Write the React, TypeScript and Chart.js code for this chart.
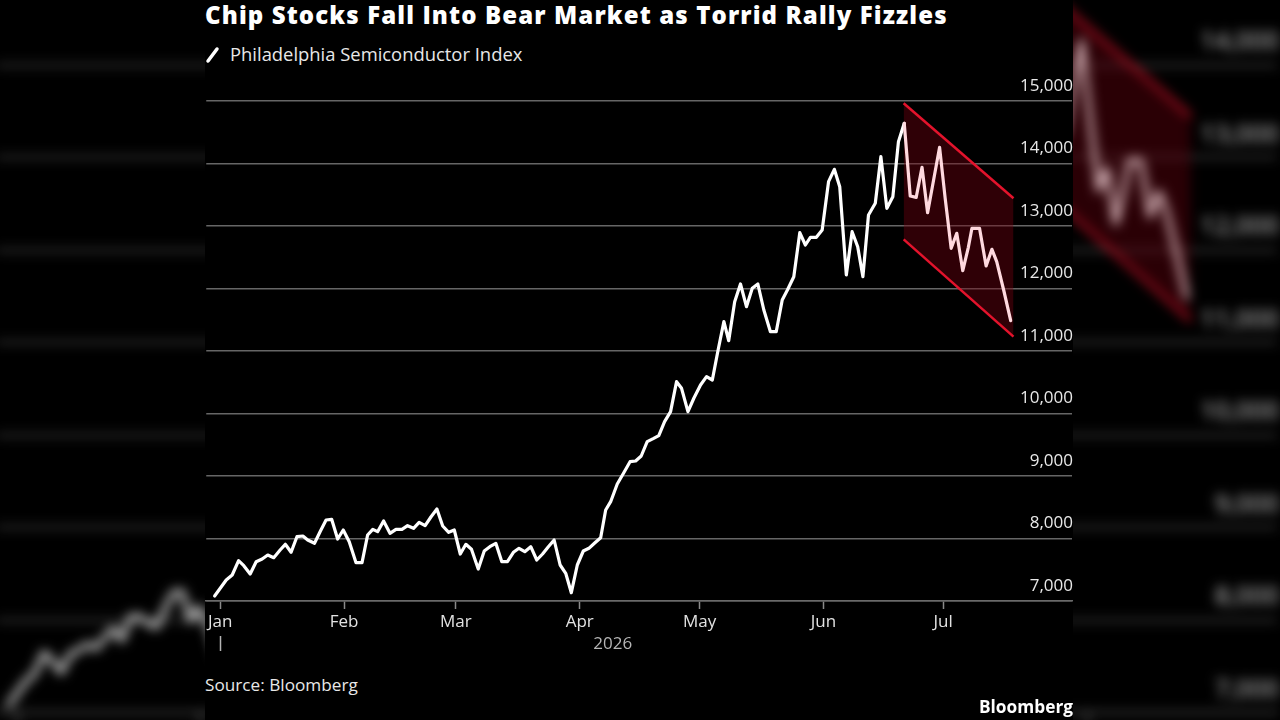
import React, { useEffect, useRef } from "react";
import { Chart, registerables } from "chart.js";

Chart.register(...registerables);

const TITLE = "Chip Stocks Fall Into Bear Market as Torrid Rally Fizzles";
const SERIES_NAME = "Philadelphia Semiconductor Index";
const SOURCE = "Source: Bloomberg";
const BRAND = "Bloomberg";
const YEAR_LABEL = "2026";

const MONTH_LABELS = ["Jan", "Feb", "Mar", "Apr", "May", "Jun", "Jul"];
// day-of-year (Jan 1 = 0) of each month start
const MONTH_START_DAYS = [0, 31, 59, 90, 120, 151, 181];
const Y_TICKS = [7000, 8000, 9000, 10000, 11000, 12000, 13000, 14000, 15000];

// day-of-year of each observation
const DAYS = [
  -1.4, 1.5, 3, 4.6, 5.9, 7.5, 9, 10.5, 11.9, 13.4, 15, 16.3, 17.75, 19.2, 20.7, 21.9, 23.6, 25, 26.5, 27.9,
  29.4, 30.8, 32.3, 34, 35.5, 36.9, 38.2, 39.4, 40.9, 42.5, 44, 45.5, 46.9, 48.4, 49.8, 51.3, 52.75, 54.25, 55.7, 57.2,
  58.6, 60.1, 61.5, 62.9, 64.6, 66.1, 67.5, 69, 70.5, 71.9, 73.4, 74.8, 76.25, 77.75, 79.25, 80.7, 82.1, 83.6, 85.1, 86.5,
  87.9, 89.4, 90.9, 92.3, 93.75, 95.25, 96.5, 97.75, 99.4, 101, 102.6, 104, 105.4, 106.9, 108.4, 109.8, 111.25, 112.75, 114.25, 115.5,
  117.1, 118.6, 120.25, 121.75, 123.2, 124.6, 126.1, 127.3, 128.8, 130.25, 131.75, 133.2, 134.6, 136.1, 137.75, 139.2, 140.7, 142, 143.6, 145.1,
  146.5, 147.75, 149.25, 150.7, 152.3, 153.75, 155.1, 156.75, 158.2, 159.6, 160.9, 162.3, 164, 165.4, 166.9, 168.4, 169.8, 171.25, 172.75, 174.25,
  175.7, 177.1, 178.6, 180.1, 181.5, 183, 184.4, 185.9, 187.3, 188.2, 190.1, 191.75, 193.2, 194.4, 196.2, 197.9,
];

// index level
const VALUES = [
  7080, 7336, 7416, 7645, 7565, 7432, 7629, 7672, 7736, 7693, 7816, 7907, 7779, 8029, 8040, 7976, 7923, 8109, 8296, 8307,
  7992, 8136, 7949, 7613, 7613, 8056, 8147, 8109, 8280, 8083, 8147, 8147, 8205, 8163, 8259, 8205, 8344, 8472, 8200, 8099,
  8136, 7752, 7907, 7827, 7512, 7800, 7869, 7923, 7629, 7629, 7779, 7843, 7789, 7869, 7656, 7752, 7864, 7976, 7576, 7443,
  7133, 7576, 7800, 7843, 7928, 8013, 8456, 8589, 8872, 9048, 9229, 9240, 9320, 9549, 9597, 9645, 9869, 10029, 10509, 10403,
  10029, 10248, 10456, 10589, 10536, 11000, 11469, 11165, 11789, 12072, 11709, 12003, 12072, 11656, 11309, 11309, 11816, 11976, 12189, 12893,
  12696, 12819, 12819, 12936, 13709, 13907, 13629, 12216, 12909, 12669, 12189, 13176, 13363, 14109, 13283, 13469, 14349, 14643, 13480, 13459,
  13939, 13213, 13736, 14259, 13443, 12643, 12883, 12285, 12659, 12963, 12963, 12360, 12627, 12429, 11960, 11485,
];

// bear-market channel
const CHANNEL_START = 171;
const CHANNEL_DAYS = [171.1, 198.6];
const CHANNEL_UPPER = [14963, 13443];
const CHANNEL_LOWER = [12787, 11229];

const FONT = '"Open Sans", "Noto Sans", sans-serif';
const WHITE = "#ffffff";
const PINK = "#ffd9df";
const RED = "#e3132c";

const yearPlugin = {
  id: "yearLabel",
  afterDraw(chart: any) {
    const { ctx, scales } = chart;
    const xs = scales.x;
    const baseY = chart.chartArea.bottom;
    ctx.save();
    // year marker under Jan
    const xJan = Math.round(xs.getPixelForValue(MONTH_START_DAYS[0])) + 0.5;
    ctx.strokeStyle = "#b5b5b5";
    ctx.lineWidth = 1.5;
    ctx.beginPath();
    ctx.moveTo(xJan, baseY + 35);
    ctx.lineTo(xJan, baseY + 50);
    ctx.stroke();
    // year label centred under the data span
    const mid = (DAYS[0] + DAYS[DAYS.length - 1]) / 2;
    ctx.fillStyle = "#b5b5b5";
    ctx.font = `17px ${FONT}`;
    ctx.textAlign = "center";
    ctx.textBaseline = "middle";
    ctx.fillText(YEAR_LABEL, xs.getPixelForValue(mid), baseY + 43);
    ctx.restore();
  },
};

function buildConfig(): any {
  return {
    type: "line",
    data: {
      datasets: [
        {
          label: SERIES_NAME,
          data: DAYS.map((d, i) => ({ x: d, y: VALUES[i] })),
          borderColor: WHITE,
          borderWidth: 3.2,
          pointRadius: 0,
          tension: 0,
          borderJoinStyle: "round",
          borderCapStyle: "round",
          fill: false,
          order: 0,
          segment: {
            borderColor: (c: any) => (c.p0.parsed.x >= CHANNEL_START ? PINK : WHITE),
          },
        },
        {
          label: "upper",
          data: CHANNEL_DAYS.map((d, i) => ({ x: d, y: CHANNEL_UPPER[i] })),
          borderColor: RED,
          borderWidth: 2.5,
          pointRadius: 0,
          fill: false,
          order: 1,
        },
        {
          label: "lower",
          data: CHANNEL_DAYS.map((d, i) => ({ x: d, y: CHANNEL_LOWER[i] })),
          borderColor: RED,
          borderWidth: 2.5,
          pointRadius: 0,
          fill: "-1",
          backgroundColor: "rgba(112,0,14,0.42)",
          order: 2,
        },
      ],
    },
    options: {
      animation: false,
      responsive: false,
      maintainAspectRatio: false,
      layout: { padding: { top: 31, right: 1, bottom: 29, left: 0 } },
      plugins: { legend: { display: false }, tooltip: { enabled: false } },
      scales: {
        x: {
          type: "linear",
          min: -3.5,
          max: 213.25,
          afterBuildTicks: (s: any) => {
            s.ticks = MONTH_START_DAYS.map((v) => ({ value: v }));
          },
          afterFit: (s: any) => {
            s.height = 40;
          },
          ticks: {
            callback: (_v: any, i: number) => MONTH_LABELS[i],
            color: "#e2e2e2",
            font: { family: FONT, size: 17 },
            padding: 3,
            maxRotation: 0,
            autoSkip: false,
          },
          grid: { drawOnChartArea: false, drawTicks: true, tickLength: 8, color: "#8a8a8a", tickWidth: 1.5 },
          border: { display: true, color: "#6a6a6a", width: 1.5 },
        },
        y: {
          position: "right",
          min: 7000,
          max: 15000,
          afterBuildTicks: (s: any) => {
            s.ticks = Y_TICKS.map((v) => ({ value: v }));
          },
          afterFit: (s: any) => {
            s.width = 0;
          },
          ticks: {
            mirror: true,
            padding: 1,
            labelOffset: -15,
            color: "#e8e8e8",
            font: { family: FONT, size: 17 },
            callback: (v: any) => Number(v).toLocaleString("en-US"),
          },
          grid: { color: "#666666", lineWidth: 1.5, drawTicks: false },
          border: { display: false },
        },
      },
    },
    plugins: [yearPlugin],
  };
}

function SoxCanvas() {
  const ref = useRef<HTMLCanvasElement>(null);
  useEffect(() => {
    const chart = new Chart(ref.current as HTMLCanvasElement, buildConfig());
    return () => chart.destroy();
  }, []);
  return (
    <canvas
      ref={ref}
      width={868}
      height={600}
      style={{ position: "absolute", left: 205, top: 70, width: 868, height: 600, display: "block" }}
    />
  );
}

export default function App() {
  return (
    <div
      style={{
        position: "fixed",
        left: 0,
        top: 0,
        width: 1280,
        height: 720,
        overflow: "hidden",
        background: "#000",
        fontFamily: FONT,
      }}
    >
      {/* blurred, zoomed backdrop */}
      <div
        style={{
          position: "absolute",
          left: 0,
          top: 0,
          width: 1280,
          height: 720,
          transform: "scale(1.48)",
          transformOrigin: "644px 369px",
          filter: "blur(4px) brightness(0.9)",
        }}
      >
        <SoxCanvas />
      </div>

      {/* main panel */}
      <div style={{ position: "absolute", left: 205, top: 0, width: 868, height: 720, background: "#000" }} />
      <SoxCanvas />

      <div
        style={{
          position: "absolute",
          left: 205,
          top: 0,
          height: 30,
          lineHeight: "30px",
          fontSize: 24,
          fontWeight: 800,
          letterSpacing: 1.12,
          color: "#fff",
          whiteSpace: "nowrap",
        }}
      >
        {TITLE}
      </div>

      <svg style={{ position: "absolute", left: 203, top: 44 }} width={20} height={22}>
        <line x1={5} y1={17} x2={14} y2={5} stroke="#fff" strokeWidth={3.5} strokeLinecap="round" />
      </svg>
      <div
        style={{
          position: "absolute",
          left: 230,
          top: 40,
          height: 28,
          lineHeight: "28px",
          fontSize: 18.4,
          color: "#e8e8e8",
          whiteSpace: "nowrap",
        }}
      >
        {SERIES_NAME}
      </div>

      <div
        style={{
          position: "absolute",
          left: 205,
          top: 671,
          height: 28,
          lineHeight: "28px",
          fontSize: 17.2,
          color: "#e8e8e8",
          whiteSpace: "nowrap",
        }}
      >
        {SOURCE}
      </div>
      <div
        style={{
          position: "absolute",
          right: 1280 - 1073,
          top: 693,
          height: 28,
          lineHeight: "28px",
          fontSize: 17.3,
          fontWeight: 700,
          color: "#fff",
          whiteSpace: "nowrap",
        }}
      >
        {BRAND}
      </div>
    </div>
  );
}
